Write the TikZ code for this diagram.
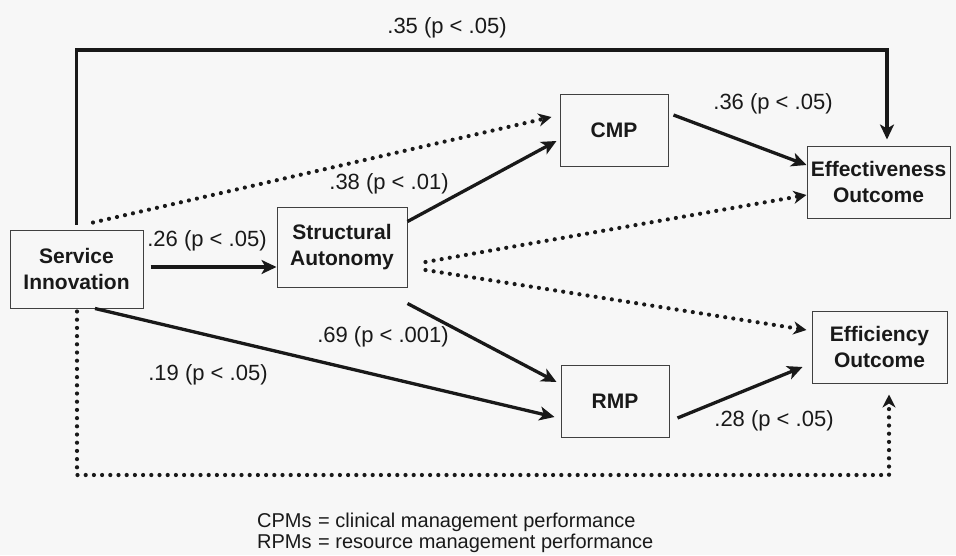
\documentclass[tikz,border=0pt]{standalone}
\usepackage{fontspec}
\setmainfont{Liberation Sans}
\usetikzlibrary{arrows.meta}
\begin{document}
\begin{tikzpicture}[x=1pt,y=-1pt,
  box/.style={draw=black!75, line width=1pt, align=center, font=\fontsize{21}{26}\selectfont\bfseries, inner sep=1pt, text=black!90},
  solidarr/.style={line width=3.3pt, draw=black!90, -{Stealth[length=15pt,width=14pt,inset=4pt]}},
  toparr/.style={line width=3.8pt, draw=black!90, -{Stealth[length=15pt,width=14pt,inset=4pt]}},
  dotarr/.style={line width=4.2pt, draw=black!90, dash pattern=on 0pt off 8.2pt, line cap=round, -{Stealth[length=13pt,width=13pt,inset=4pt]}},
  lbl/.style={font=\fontsize{22}{26}\selectfont, text=black!90, inner sep=0pt},
  legend/.style={font=\fontsize{20}{24}\selectfont, text=black!90, inner sep=0pt, anchor=base west}
]
\fill[black!3] (0,0) rectangle (956,555);
\useasboundingbox (0,0) rectangle (956,555);

% boxes
\node[box, minimum width=133pt, minimum height=78pt] (si) at (76.5,269) {Service\\Innovation};
\node[box, minimum width=130pt, minimum height=80pt] (sa) at (342,247) {Structural\\Autonomy};
\node[box, minimum width=108pt, minimum height=72pt] (cmp) at (614,130) {CMP};
\node[box, minimum width=143pt, minimum height=72pt] (eff) at (878.5,182) {Effectiveness\\Outcome};
\node[box, minimum width=135pt, minimum height=72pt] (effi) at (879.5,347) {Efficiency\\Outcome};
\node[box, minimum width=108pt, minimum height=72pt] (rmp) at (615,401) {RMP};

% helper coordinates
\coordinate (top) at (0,50);
\coordinate (bot) at (0,475);
\coordinate (s1) at ([yshift=5pt]si.north);
\coordinate (e1) at ([xshift=8.5pt,yshift=6pt]eff.north);
\coordinate (s2) at ([xshift=0.5pt,yshift=-3pt]si.south);
\coordinate (e2) at ([xshift=9.5pt,yshift=-11pt]effi.south);

% top solid path
\draw[toparr] (s1) -- (s1 |- top) -- (e1 |- top) -- (e1);
% bottom dotted path
\draw[dotarr] (s2) -- (s2 |- bot) -- (e2 |- bot) -- (e2);

% solid arrows
\draw[solidarr] ([xshift=7pt,yshift=2pt]si.east) -- ([yshift=-20pt]sa.west);
\draw[solidarr] ([yshift=-15pt]sa.north east) -- ([xshift=-3pt,yshift=-11pt]cmp.west);
\draw[solidarr] ([xshift=5pt,yshift=15pt]cmp.east) -- ([yshift=17pt]eff.west);
\draw[solidarr] ([yshift=-16pt]sa.south east) -- ([xshift=-4pt,yshift=19pt]rmp.west);
\draw[solidarr] ([xshift=18.5pt]si.south) -- ([xshift=-6pt,yshift=-16pt]rmp.west);
\draw[solidarr] ([xshift=8pt,yshift=-17pt]rmp.east) -- ([xshift=-9pt,yshift=-20pt]effi.west);

% dotted arrows
\draw[dotarr] ([xshift=16.5pt,yshift=7pt]si.north) -- ([xshift=-8pt,yshift=13pt]cmp.west);
\draw[dotarr] ([xshift=18pt,yshift=-15pt]sa.east) -- ([yshift=-13pt]eff.west);
\draw[dotarr] ([xshift=18pt,yshift=-23pt]sa.east) -- ([xshift=-5pt,yshift=17pt]effi.west);

% labels
\node[lbl] (l35) at (447,28) {.35 (p < .05)};
\node[lbl] (l36) at (773,104) {.36 (p < .05)};
\node[lbl] (l38) at (389,184) {.38 (p < .01)};
\node[lbl] (l26) at (207,241) {.26 (p < .05)};
\node[lbl] (l69) at (383,337) {.69 (p < .001)};
\node[lbl] (l19) at (208,375) {.19 (p < .05)};
\node[lbl] (l28) at (774,421) {.28 (p < .05)};

% legend
\node[legend] (c1) at (257,527) {CPMs};
\node[legend] (c2) at (318,527) {= clinical management performance};
\node[legend] (r1) at (257,548) {RPMs};
\node[legend] (r2) at (318,548) {= resource management performance};
\end{tikzpicture}
\end{document}
